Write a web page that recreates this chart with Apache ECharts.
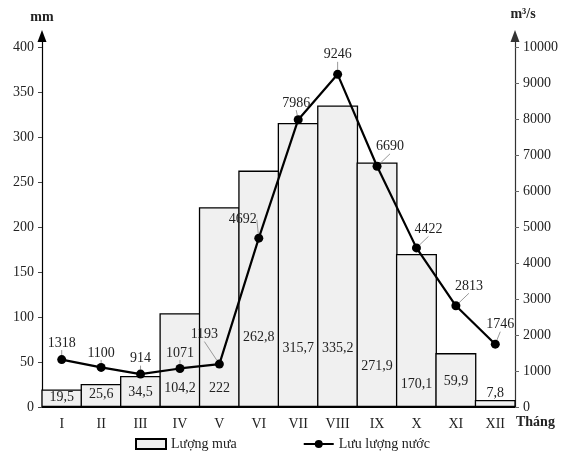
<!DOCTYPE html>
<html>
<head>
<meta charset="utf-8">
<script src="https://cdn.jsdelivr.net/npm/echarts@6/dist/echarts.min.js"></script>
<style>
  html, body { margin: 0; padding: 0; background: #fff; }
  #main { width: 564px; height: 454px; }
</style>
</head>
<body>
<div id="main"></div>
<script>
var thang = ['I', 'II', 'III', 'IV', 'V', 'VI', 'VII', 'VIII', 'IX', 'X', 'XI', 'XII'];
var luongMua = [19.5, 25.6, 34.5, 104.2, 222, 262.8, 315.7, 335.2, 271.9, 170.1, 59.9, 7.8];
var luuLuong = [1318, 1100, 914, 1071, 1193, 4692, 7986, 9246, 6690, 4422, 2813, 1746];
var vachMua = [0, 50, 100, 150, 200, 250, 300, 350, 400];
var vachNuoc = [0, 1000, 2000, 3000, 4000, 5000, 6000, 7000, 8000, 9000, 10000];

// dịch nhãn cho giống hình gốc
var dichNhanCot = [2, -1, -3, -7, -7, -58, -47, -47, -29, -11, -14, -2];
var dichNhanDuong = [[0, 0], [0, 2], [0, 1], [0, 1], [-15, -13], [-16, -2], [-2, 0], [0, -3],
    [13, -3], [12, -2], [13, -3], [5, -3]];

var fontChu = '"Liberation Serif", "DejaVu Serif", serif';

function soVN(v) {
    return String(v).replace('.', ',');
}

var myChart = echarts.init(document.getElementById('main'));

var option = {
    animation: false,
    backgroundColor: '#fff',
    textStyle: { fontFamily: fontChu, color: '#222' },
    grid: { left: 42, right: 49, top: 40, bottom: 47 },
    legend: {
        bottom: -2,
        left: 130,
        itemGap: 66,
        itemWidth: 30,
        itemHeight: 10,
        textStyle: { fontFamily: fontChu, fontSize: 14, color: '#222' },
        data: [
            { name: 'Lượng mưa', icon: 'rect' },
            { name: 'Lưu lượng nước' }
        ]
    },
    xAxis: {
        type: 'category',
        data: thang,
        boundaryGap: true,
        name: 'Tháng',
        nameLocation: 'end',
        nameGap: 1,
        nameTextStyle: { fontFamily: fontChu, fontSize: 14, fontWeight: 'bold', color: '#222',
            verticalAlign: 'top', padding: [8, 0, 0, 0] },
        axisLine: { lineStyle: { color: '#000', width: 1.2 } },
        axisTick: { show: false },
        axisLabel: { fontFamily: fontChu, fontSize: 14, color: '#222', margin: 10 }
    },
    yAxis: [{
        type: 'value',
        min: 0,
        max: 408,
        interval: 50,
        name: 'mm',
        nameGap: 16,
        nameTextStyle: { fontFamily: fontChu, fontSize: 14, fontWeight: 'bold', color: '#222', align: 'center' },
        splitLine: { show: false },
        axisLine: { show: true, lineStyle: { color: '#000', width: 1.2 },
            symbol: ['none', 'triangle'], symbolSize: [9, 12], symbolOffset: [0, 4] },
        axisTick: { show: true, length: 4, lineStyle: { color: '#444' }, customValues: vachMua },
        axisLabel: { fontFamily: fontChu, fontSize: 14, color: '#222', margin: 8, customValues: vachMua }
    }, {
        type: 'value',
        min: 0,
        max: 10200,
        interval: 1000,
        name: 'm³/s',
        nameGap: 19,
        nameTextStyle: { fontFamily: fontChu, fontSize: 14, fontWeight: 'bold', color: '#222', align: 'center',
            padding: [0, 0, 0, 16] },
        splitLine: { show: false },
        axisLine: { show: true, lineStyle: { color: '#333', width: 1.2 },
            symbol: ['none', 'triangle'], symbolSize: [9, 12], symbolOffset: [0, 4] },
        axisTick: { show: true, length: 4, lineStyle: { color: '#666' }, customValues: vachNuoc },
        axisLabel: { fontFamily: fontChu, fontSize: 14, color: '#222', margin: 8, customValues: vachNuoc,
            formatter: function (v) { return String(v); } }
    }],
    series: [{
        name: 'Lượng mưa',
        type: 'bar',
        yAxisIndex: 0,
        data: luongMua,
        barWidth: 41,
        barCategoryGap: '0%',
        itemStyle: { color: '#f0f0f0', borderColor: '#000', borderWidth: 1.3 },
        label: {
            show: true,
            position: 'insideBottom',
            distance: 5,
            fontFamily: fontChu,
            fontSize: 14,
            color: '#222',
            formatter: function (p) { return soVN(p.value); }
        },
        labelLayout: function (p) {
            return { dy: dichNhanCot[p.dataIndex] };
        }
    }, {
        name: 'Lưu lượng nước',
        type: 'line',
        yAxisIndex: 1,
        data: luuLuong,
        symbol: 'circle',
        symbolSize: 9,
        itemStyle: { color: '#000' },
        lineStyle: { color: '#000', width: 2.2 },
        z: 5,
        label: {
            show: true,
            position: 'top',
            distance: 5,
            fontFamily: fontChu,
            fontSize: 14,
            color: '#222'
        },
        labelLine: { show: true, lineStyle: { color: '#999', width: 1 } },
        labelLayout: function (p) {
            var d = dichNhanDuong[p.dataIndex];
            return { dx: d[0], dy: d[1] };
        },
        emphasis: { disabled: true }
    }]
};

myChart.setOption(option);
</script>
</body>
</html>
